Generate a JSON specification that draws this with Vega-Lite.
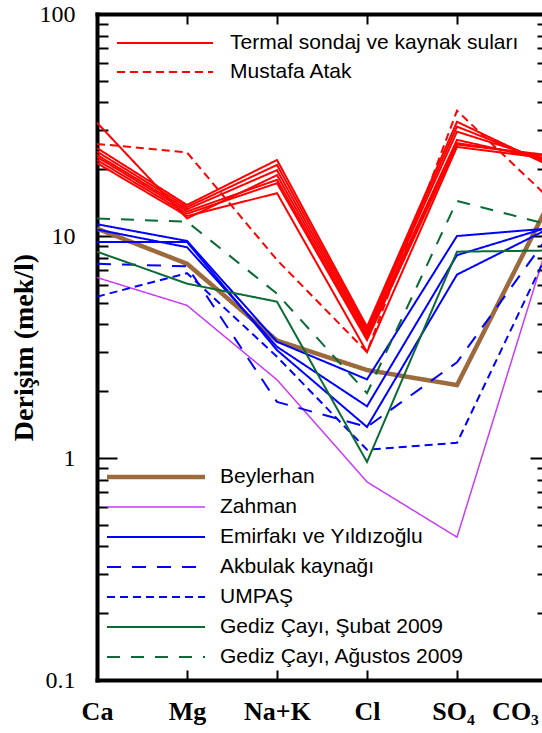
{
  "$schema": "https://vega.github.io/schema/vega-lite/v6.json",
  "width": 445,
  "height": 666,
  "autosize": {"type": "none"},
  "padding": {"left": 97, "top": 14, "right": 0, "bottom": 53},
  "background": "white",
  "config": {"view": {"stroke": null}, "axis": {"grid": false}},
  "data": {
    "values": [
      {"seri": "T1", "grup": "Termal sondaj ve kaynak suları", "iyon": "Ca", "deger": 32.4},
      {"seri": "T1", "grup": "Termal sondaj ve kaynak suları", "iyon": "Mg", "deger": 12.0},
      {"seri": "T1", "grup": "Termal sondaj ve kaynak suları", "iyon": "Na+K", "deger": 18.8},
      {"seri": "T1", "grup": "Termal sondaj ve kaynak suları", "iyon": "Cl", "deger": 3.6},
      {"seri": "T1", "grup": "Termal sondaj ve kaynak suları", "iyon": "SO4", "deger": 27.1},
      {"seri": "T1", "grup": "Termal sondaj ve kaynak suları", "iyon": "CO3", "deger": 22.0},
      {"seri": "T2", "grup": "Termal sondaj ve kaynak suları", "iyon": "Ca", "deger": 24.9},
      {"seri": "T2", "grup": "Termal sondaj ve kaynak suları", "iyon": "Mg", "deger": 13.8},
      {"seri": "T2", "grup": "Termal sondaj ve kaynak suları", "iyon": "Na+K", "deger": 22.0},
      {"seri": "T2", "grup": "Termal sondaj ve kaynak suları", "iyon": "Cl", "deger": 3.9},
      {"seri": "T2", "grup": "Termal sondaj ve kaynak suları", "iyon": "SO4", "deger": 32.7},
      {"seri": "T2", "grup": "Termal sondaj ve kaynak suları", "iyon": "CO3", "deger": 21.0},
      {"seri": "T3", "grup": "Termal sondaj ve kaynak suları", "iyon": "Ca", "deger": 24.0},
      {"seri": "T3", "grup": "Termal sondaj ve kaynak suları", "iyon": "Mg", "deger": 13.5},
      {"seri": "T3", "grup": "Termal sondaj ve kaynak suları", "iyon": "Na+K", "deger": 20.9},
      {"seri": "T3", "grup": "Termal sondaj ve kaynak suları", "iyon": "Cl", "deger": 3.8},
      {"seri": "T3", "grup": "Termal sondaj ve kaynak suları", "iyon": "SO4", "deger": 31.1},
      {"seri": "T3", "grup": "Termal sondaj ve kaynak suları", "iyon": "CO3", "deger": 21.5},
      {"seri": "T4", "grup": "Termal sondaj ve kaynak suları", "iyon": "Ca", "deger": 23.2},
      {"seri": "T4", "grup": "Termal sondaj ve kaynak suları", "iyon": "Mg", "deger": 13.2},
      {"seri": "T4", "grup": "Termal sondaj ve kaynak suları", "iyon": "Na+K", "deger": 19.8},
      {"seri": "T4", "grup": "Termal sondaj ve kaynak suları", "iyon": "Cl", "deger": 3.7},
      {"seri": "T4", "grup": "Termal sondaj ve kaynak suları", "iyon": "SO4", "deger": 29.5},
      {"seri": "T4", "grup": "Termal sondaj ve kaynak suları", "iyon": "CO3", "deger": 22.0},
      {"seri": "T5", "grup": "Termal sondaj ve kaynak suları", "iyon": "Ca", "deger": 22.7},
      {"seri": "T5", "grup": "Termal sondaj ve kaynak suları", "iyon": "Mg", "deger": 12.9},
      {"seri": "T5", "grup": "Termal sondaj ve kaynak suları", "iyon": "Na+K", "deger": 17.9},
      {"seri": "T5", "grup": "Termal sondaj ve kaynak suları", "iyon": "Cl", "deger": 3.5},
      {"seri": "T5", "grup": "Termal sondaj ve kaynak suları", "iyon": "SO4", "deger": 26.2},
      {"seri": "T5", "grup": "Termal sondaj ve kaynak suları", "iyon": "CO3", "deger": 22.8},
      {"seri": "T6", "grup": "Termal sondaj ve kaynak suları", "iyon": "Ca", "deger": 22.0},
      {"seri": "T6", "grup": "Termal sondaj ve kaynak suları", "iyon": "Mg", "deger": 12.6},
      {"seri": "T6", "grup": "Termal sondaj ve kaynak suları", "iyon": "Na+K", "deger": 17.3},
      {"seri": "T6", "grup": "Termal sondaj ve kaynak suları", "iyon": "Cl", "deger": 3.4},
      {"seri": "T6", "grup": "Termal sondaj ve kaynak suları", "iyon": "SO4", "deger": 25.8},
      {"seri": "T6", "grup": "Termal sondaj ve kaynak suları", "iyon": "CO3", "deger": 23.2},
      {"seri": "T7", "grup": "Termal sondaj ve kaynak suları", "iyon": "Ca", "deger": 21.3},
      {"seri": "T7", "grup": "Termal sondaj ve kaynak suları", "iyon": "Mg", "deger": 12.3},
      {"seri": "T7", "grup": "Termal sondaj ve kaynak suları", "iyon": "Na+K", "deger": 15.6},
      {"seri": "T7", "grup": "Termal sondaj ve kaynak suları", "iyon": "Cl", "deger": 3.0},
      {"seri": "T7", "grup": "Termal sondaj ve kaynak suları", "iyon": "SO4", "deger": 25.2},
      {"seri": "T7", "grup": "Termal sondaj ve kaynak suları", "iyon": "CO3", "deger": 22.4},
      {"seri": "M1", "grup": "Mustafa Atak", "iyon": "Ca", "deger": 26.0},
      {"seri": "M1", "grup": "Mustafa Atak", "iyon": "Mg", "deger": 23.8},
      {"seri": "M1", "grup": "Mustafa Atak", "iyon": "Na+K", "deger": 7.8},
      {"seri": "M1", "grup": "Mustafa Atak", "iyon": "Cl", "deger": 3.0},
      {"seri": "M1", "grup": "Mustafa Atak", "iyon": "SO4", "deger": 36.7},
      {"seri": "M1", "grup": "Mustafa Atak", "iyon": "CO3", "deger": 15.1},
      {"seri": "B1", "grup": "Beylerhan", "iyon": "Ca", "deger": 10.8},
      {"seri": "B1", "grup": "Beylerhan", "iyon": "Mg", "deger": 7.5},
      {"seri": "B1", "grup": "Beylerhan", "iyon": "Na+K", "deger": 3.38},
      {"seri": "B1", "grup": "Beylerhan", "iyon": "Cl", "deger": 2.49},
      {"seri": "B1", "grup": "Beylerhan", "iyon": "SO4", "deger": 2.13},
      {"seri": "B1", "grup": "Beylerhan", "iyon": "CO3", "deger": 13.5},
      {"seri": "Z1", "grup": "Zahman", "iyon": "Ca", "deger": 6.5},
      {"seri": "Z1", "grup": "Zahman", "iyon": "Mg", "deger": 4.87},
      {"seri": "Z1", "grup": "Zahman", "iyon": "Na+K", "deger": 2.25},
      {"seri": "Z1", "grup": "Zahman", "iyon": "Cl", "deger": 0.78},
      {"seri": "Z1", "grup": "Zahman", "iyon": "SO4", "deger": 0.44},
      {"seri": "Z1", "grup": "Zahman", "iyon": "CO3", "deger": 9.0},
      {"seri": "E1", "grup": "Emirfakı ve Yıldızoğlu", "iyon": "Ca", "deger": 11.3},
      {"seri": "E1", "grup": "Emirfakı ve Yıldızoğlu", "iyon": "Mg", "deger": 9.5},
      {"seri": "E1", "grup": "Emirfakı ve Yıldızoğlu", "iyon": "Na+K", "deger": 3.34},
      {"seri": "E1", "grup": "Emirfakı ve Yıldızoğlu", "iyon": "Cl", "deger": 2.26},
      {"seri": "E1", "grup": "Emirfakı ve Yıldızoğlu", "iyon": "SO4", "deger": 10.0},
      {"seri": "E1", "grup": "Emirfakı ve Yıldızoğlu", "iyon": "CO3", "deger": 10.8},
      {"seri": "E2", "grup": "Emirfakı ve Yıldızoğlu", "iyon": "Ca", "deger": 10.7},
      {"seri": "E2", "grup": "Emirfakı ve Yıldızoğlu", "iyon": "Mg", "deger": 8.9},
      {"seri": "E2", "grup": "Emirfakı ve Yıldızoğlu", "iyon": "Na+K", "deger": 3.17},
      {"seri": "E2", "grup": "Emirfakı ve Yıldızoğlu", "iyon": "Cl", "deger": 1.71},
      {"seri": "E2", "grup": "Emirfakı ve Yıldızoğlu", "iyon": "SO4", "deger": 8.2},
      {"seri": "E2", "grup": "Emirfakı ve Yıldızoğlu", "iyon": "CO3", "deger": 10.9},
      {"seri": "E3", "grup": "Emirfakı ve Yıldızoğlu", "iyon": "Ca", "deger": 9.4},
      {"seri": "E3", "grup": "Emirfakı ve Yıldızoğlu", "iyon": "Mg", "deger": 9.4},
      {"seri": "E3", "grup": "Emirfakı ve Yıldızoğlu", "iyon": "Na+K", "deger": 3.06},
      {"seri": "E3", "grup": "Emirfakı ve Yıldızoğlu", "iyon": "Cl", "deger": 1.38},
      {"seri": "E3", "grup": "Emirfakı ve Yıldızoğlu", "iyon": "SO4", "deger": 6.7},
      {"seri": "E3", "grup": "Emirfakı ve Yıldızoğlu", "iyon": "CO3", "deger": 10.7},
      {"seri": "A1", "grup": "Akbulak kaynağı", "iyon": "Ca", "deger": 7.5},
      {"seri": "A1", "grup": "Akbulak kaynağı", "iyon": "Mg", "deger": 7.3},
      {"seri": "A1", "grup": "Akbulak kaynağı", "iyon": "Na+K", "deger": 1.79},
      {"seri": "A1", "grup": "Akbulak kaynağı", "iyon": "Cl", "deger": 1.38},
      {"seri": "A1", "grup": "Akbulak kaynağı", "iyon": "SO4", "deger": 2.7},
      {"seri": "A1", "grup": "Akbulak kaynağı", "iyon": "CO3", "deger": 9.8},
      {"seri": "U1", "grup": "UMPAŞ", "iyon": "Ca", "deger": 5.33},
      {"seri": "U1", "grup": "UMPAŞ", "iyon": "Mg", "deger": 6.8},
      {"seri": "U1", "grup": "UMPAŞ", "iyon": "Na+K", "deger": 2.86},
      {"seri": "U1", "grup": "UMPAŞ", "iyon": "Cl", "deger": 1.09},
      {"seri": "U1", "grup": "UMPAŞ", "iyon": "SO4", "deger": 1.17},
      {"seri": "U1", "grup": "UMPAŞ", "iyon": "CO3", "deger": 8.3},
      {"seri": "G1", "grup": "Gediz Çayı, Şubat 2009", "iyon": "Ca", "deger": 8.5},
      {"seri": "G1", "grup": "Gediz Çayı, Şubat 2009", "iyon": "Mg", "deger": 6.1},
      {"seri": "G1", "grup": "Gediz Çayı, Şubat 2009", "iyon": "Na+K", "deger": 5.06},
      {"seri": "G1", "grup": "Gediz Çayı, Şubat 2009", "iyon": "Cl", "deger": 0.96},
      {"seri": "G1", "grup": "Gediz Çayı, Şubat 2009", "iyon": "SO4", "deger": 8.5},
      {"seri": "G1", "grup": "Gediz Çayı, Şubat 2009", "iyon": "CO3", "deger": 8.6},
      {"seri": "G2", "grup": "Gediz Çayı, Ağustos 2009", "iyon": "Ca", "deger": 12.0},
      {"seri": "G2", "grup": "Gediz Çayı, Ağustos 2009", "iyon": "Mg", "deger": 11.6},
      {"seri": "G2", "grup": "Gediz Çayı, Ağustos 2009", "iyon": "Na+K", "deger": 5.5},
      {"seri": "G2", "grup": "Gediz Çayı, Ağustos 2009", "iyon": "Cl", "deger": 1.96},
      {"seri": "G2", "grup": "Gediz Çayı, Ağustos 2009", "iyon": "SO4", "deger": 14.4},
      {"seri": "G2", "grup": "Gediz Çayı, Ağustos 2009", "iyon": "CO3", "deger": 11.3}
    ]
  },
  "layer": [
    {
      "transform": [{"filter": {"field": "grup", "oneOf": ["Beylerhan", "Zahman", "Emirfakı ve Yıldızoğlu", "Akbulak kaynağı", "UMPAŞ", "Gediz Çayı, Şubat 2009", "Gediz Çayı, Ağustos 2009"]}}],
      "mark": {"type": "line", "clip": true},
      "encoding": {
        "x": {
          "field": "iyon", "type": "nominal",
          "sort": ["Ca", "Mg", "Na+K", "Cl", "SO4", "CO3"],
          "scale": {"type": "point", "range": [0, 450], "padding": 0},
          "axis": {
            "orient": "bottom", "title": null,
            "domainWidth": 4, "domainColor": "black", "domainCap": "square",
            "tickSize": -10, "tickWidth": 2, "tickColor": "black",
            "labelFont": "Liberation Serif", "labelFontSize": 26, "labelFontWeight": "bold", "labelColor": "black",
            "labelAngle": 0, "labelBaseline": "alphabetic", "labelPadding": 49,
            "labelOverlap": false, "labelBound": false, "labelFlush": false,
            "labelExpr": "datum.value == 'SO4' ? 'SO₄' : datum.value == 'CO3' ? 'CO₃' : datum.value",
            "labelOffset": {"condition": [{"test": "datum.value == 'CO3'", "value": -32}, {"test": "datum.value == 'SO4'", "value": -4}], "value": 0}
          }
        },
        "y": {
          "field": "deger", "type": "quantitative",
          "scale": {"type": "log", "domain": [0.1, 100], "nice": false},
          "axis": {
            "orient": "left", "title": "Derişim (mek/l)",
            "values": [0.1, 0.2, 0.3, 0.4, 0.5, 0.6, 0.7, 0.8, 0.9, 1, 2, 3, 4, 5, 6, 7, 8, 9, 10, 20, 30, 40, 50, 60, 70, 80, 90, 100],
            "domainWidth": 4, "domainColor": "black", "domainCap": "square",
            "tickWidth": 2, "tickColor": "black",
            "tickSize": {"condition": {"test": "datum.value == 0.1 || datum.value == 1 || datum.value == 10 || datum.value == 100", "value": -20}, "value": -11},
            "labelExpr": "(datum.value == 0.1 || datum.value == 1 || datum.value == 10 || datum.value == 100) ? format(datum.value, '~g') : ''",
            "labelFont": "Liberation Serif", "labelFontSize": 24, "labelColor": "black", "labelPadding": 42,
            "labelOverlap": false, "labelBound": false, "labelFlush": false,
            "titleFont": "Liberation Serif", "titleFontSize": 28, "titleFontWeight": "bold", "titleColor": "black", "titlePadding": 1
          }
        },
        "detail": {"field": "seri"},
        "color": {
          "field": "grup", "type": "nominal",
          "scale": {"domain": ["Beylerhan", "Zahman", "Emirfakı ve Yıldızoğlu", "Akbulak kaynağı", "UMPAŞ", "Gediz Çayı, Şubat 2009", "Gediz Çayı, Ağustos 2009"],
                    "range": ["#9c6a3d", "#c83cf5", "#0000ff", "#0000ff", "#0000ff", "#0b6b35", "#0b6b35"]},
          "legend": {"orient": "none", "legendX": 7.5, "legendY": 448, "title": null, "padding": 0, "rowPadding": 0,
                     "symbolType": "stroke", "symbolSize": 9604, "clipHeight": 30,
                     "labelFont": "Liberation Sans", "labelFontSize": 21, "labelColor": "black", "labelOffset": 12.5, "labelLimit": 400}
        },
        "strokeDash": {
          "field": "grup", "type": "nominal",
          "scale": {"domain": ["Beylerhan", "Zahman", "Emirfakı ve Yıldızoğlu", "Akbulak kaynağı", "UMPAŞ", "Gediz Çayı, Şubat 2009", "Gediz Çayı, Ağustos 2009"],
                    "range": [[1, 0], [1, 0], [1, 0], [14, 11], [8, 5], [1, 0], [13, 11]]},
          "legend": {"orient": "none", "legendX": 7.5, "legendY": 448, "title": null, "padding": 0, "rowPadding": 0,
                     "symbolType": "stroke", "symbolSize": 9604, "clipHeight": 30,
                     "labelFont": "Liberation Sans", "labelFontSize": 21, "labelColor": "black", "labelOffset": 12.5, "labelLimit": 400}
        },
        "strokeWidth": {
          "field": "grup", "type": "nominal",
          "scale": {"type": "ordinal", "domain": ["Beylerhan", "Zahman", "Emirfakı ve Yıldızoğlu", "Akbulak kaynağı", "UMPAŞ", "Gediz Çayı, Şubat 2009", "Gediz Çayı, Ağustos 2009"],
                    "range": [4.5, 1.5, 2, 2, 2, 2, 2]},
          "legend": {"orient": "none", "legendX": 7.5, "legendY": 448, "title": null, "padding": 0, "rowPadding": 0,
                     "symbolType": "stroke", "symbolSize": 9604, "clipHeight": 30,
                     "labelFont": "Liberation Sans", "labelFontSize": 21, "labelColor": "black", "labelOffset": 12.5, "labelLimit": 400}
        }
      }
    },
    {
      "transform": [{"filter": {"field": "grup", "oneOf": ["Termal sondaj ve kaynak suları", "Mustafa Atak"]}}],
      "mark": {"type": "line", "clip": true, "strokeWidth": 2},
      "encoding": {
        "x": {"field": "iyon", "type": "nominal", "sort": ["Ca", "Mg", "Na+K", "Cl", "SO4", "CO3"], "axis": null},
        "y": {"field": "deger", "type": "quantitative", "axis": null},
        "detail": {"field": "seri"},
        "color": {
          "field": "grup", "type": "nominal",
          "scale": {"domain": ["Termal sondaj ve kaynak suları", "Mustafa Atak"], "range": ["#ff0000", "#ff0000"]},
          "legend": {"orient": "none", "legendX": 19, "legendY": 14.5, "title": null, "padding": 0, "rowPadding": 0,
                     "symbolType": "stroke", "symbolSize": 9216, "symbolStrokeWidth": 2, "clipHeight": 29,
                     "labelFont": "Liberation Sans", "labelFontSize": 21, "labelColor": "black", "labelOffset": 16, "labelLimit": 400}
        },
        "strokeDash": {
          "field": "grup", "type": "nominal",
          "scale": {"domain": ["Termal sondaj ve kaynak suları", "Mustafa Atak"], "range": [[1, 0], [8, 5]]},
          "legend": {"orient": "none", "legendX": 19, "legendY": 14.5, "title": null, "padding": 0, "rowPadding": 0,
                     "symbolType": "stroke", "symbolSize": 9216, "symbolStrokeWidth": 2, "clipHeight": 29,
                     "labelFont": "Liberation Sans", "labelFontSize": 21, "labelColor": "black", "labelOffset": 16, "labelLimit": 400}
        }
      }
    },
    {
      "mark": {"type": "point", "opacity": 0},
      "encoding": {
        "x": {
          "field": "iyon", "type": "nominal", "sort": ["Ca", "Mg", "Na+K", "Cl", "SO4", "CO3"],
          "axis": {"orient": "top", "title": null, "labels": false,
                   "domainWidth": 4, "domainColor": "black", "domainCap": "square",
                   "tickSize": -10, "tickWidth": 2, "tickColor": "black"}
        },
        "y": {
          "field": "deger", "type": "quantitative",
          "axis": {"orient": "right", "title": null, "labels": false, "domain": false,
                   "values": [0.1, 0.2, 0.3, 0.4, 0.5, 0.6, 0.7, 0.8, 0.9, 1, 2, 3, 4, 5, 6, 7, 8, 9, 10, 20, 30, 40, 50, 60, 70, 80, 90, 100],
                   "tickWidth": 2, "tickColor": "black",
                   "tickSize": {"condition": {"test": "datum.value == 0.1 || datum.value == 1 || datum.value == 10 || datum.value == 100", "value": -12}, "value": -5}}
        }
      }
    }
  ],
  "resolve": {
    "scale": {"color": "independent", "strokeDash": "independent", "strokeWidth": "independent"},
    "axis": {"x": "independent", "y": "independent"}
  }
}
